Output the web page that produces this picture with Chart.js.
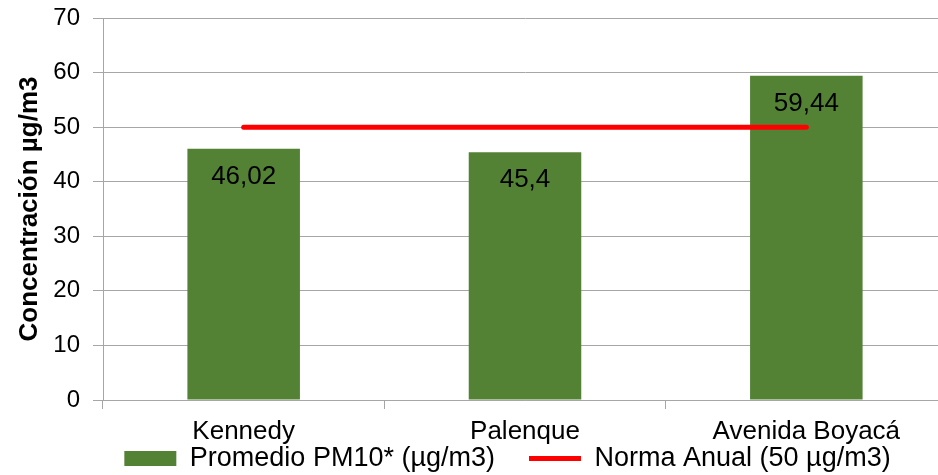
<!DOCTYPE html>
<html>
<head>
<meta charset="utf-8">
<script src="https://cdn.jsdelivr.net/npm/chart.js@4"></script>
<style>
  html, body { margin: 0; padding: 0; background: #fff; overflow: hidden; }
  #wrap { width: 947px; height: 518px; }
</style>
</head>
<body>
<div id="wrap"><canvas id="myChart"></canvas></div>
<script>
const stations = ['Kennedy', 'Palenque', 'Avenida Boyacá'];
const pm10 = [46.02, 45.4, 59.44];
const norma = [50, 50, 50];
const yTicks = [0, 10, 20, 30, 40, 50, 60, 70];

const FONT = "'Liberation Sans', Arial, sans-serif";
Chart.defaults.font.family = FONT;
Chart.defaults.color = '#000';

// writes the value inside each bar, comma as decimal mark
const barLabels = {
  id: 'barLabels',
  afterDatasetsDraw(chart) {
    const meta = chart.getDatasetMeta(0);
    const ctx = chart.ctx;
    ctx.save();
    ctx.font = '26px ' + FONT;
    ctx.fillStyle = '#000';
    ctx.textAlign = 'center';
    ctx.textBaseline = 'middle';
    meta.data.forEach(function(bar, i) {
      ctx.fillText(String(pm10[i]).replace('.', ','), bar.x, bar.y + 28);
    });
    ctx.restore();
  }
};

// legend in the original sits right of centre and tucked under the labels
const legendShift = {
  id: 'legendShift',
  afterLayout(chart) {
    const lg = chart.legend;
    lg.left += 34; lg.right += 34;
    lg.top -= 36; lg.bottom -= 36;
  }
};

const config = {
  data: {
    labels: stations,
    datasets: [{
      type: 'bar',
      label: 'Promedio PM10* (µg/m3)',
      data: pm10,
      backgroundColor: '#548235',
      borderWidth: 0,
      barPercentage: 0.4,
      categoryPercentage: 1,
      pointStyle: 'rect',
      order: 1
    }, {
      type: 'line',
      label: 'Norma Anual (50 µg/m3)',
      data: norma,
      borderColor: '#ff0000',
      backgroundColor: '#ff0000',
      borderWidth: 5,
      borderCapStyle: 'round',
      pointRadius: 0,
      pointStyle: 'line',
      order: 0
    }]
  },
  options: {
    responsive: true,
    maintainAspectRatio: false,
    animation: false,
    plugins: {
      tooltip: { enabled: false },
      legend: {
        position: 'bottom',
        labels: {
          usePointStyle: true,
          pointStyleWidth: 52,
          boxHeight: 15,
          padding: 34,
          font: { size: 27 },
          color: '#000',
          sort: (a, b) => a.datasetIndex - b.datasetIndex
        }
      }
    },
    scales: {
      x: {
        offset: true,
        grid: { offset: true, drawOnChartArea: false, color: '#a6a6a6', tickLength: 9 },
        border: { color: '#a6a6a6' },
        ticks: { font: { size: 26 }, color: '#000', padding: 7, maxRotation: 0, minRotation: 0, autoSkip: false },
        afterFit: function(scale) { scale.height = 47; }
      },
      y: {
        min: 0,
        max: 70,
        afterBuildTicks: function(scale) { scale.ticks = yTicks.map(v => ({ value: v })); },
        grid: { color: '#a6a6a6', tickLength: 10 },
        border: { color: '#a6a6a6' },
        ticks: { font: { size: 24 }, color: '#000', padding: 13 },
        title: {
          display: true,
          text: 'Concentración µg/m3',
          font: { size: 26, weight: 'bold' },
          color: '#000',
          padding: { top: 14, bottom: 0 }
        },
        afterFit: function(scale) { scale.width = 103; scale.paddingTop = 18; }
      }
    }
  },
  plugins: [barLabels, legendShift]
};

const myChart = new Chart(document.getElementById('myChart'), config);
</script>
</body>
</html>
